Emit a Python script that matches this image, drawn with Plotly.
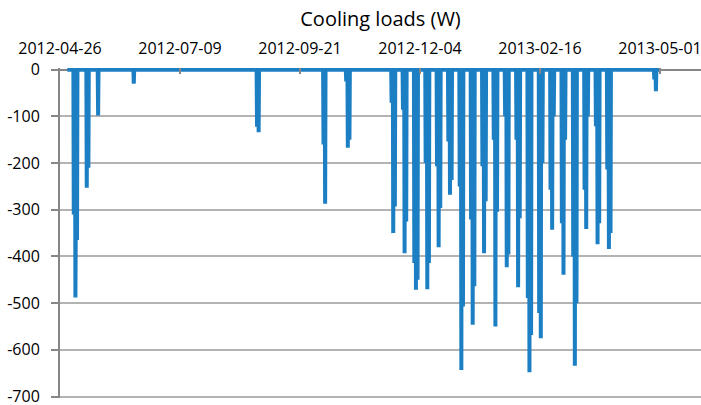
import datetime as dt
import plotly.graph_objects as go

# Daily peak cooling loads (W) for each load event; one value per consecutive day
event_start = [
    "2012-05-04", "2012-05-12", "2012-05-19", "2012-06-10",
    "2012-08-25", "2012-10-05", "2012-10-19",
    "2012-11-16", "2012-11-23", "2012-11-30", "2012-12-07", "2012-12-14",
    "2012-12-21", "2012-12-28", "2013-01-04", "2013-01-11", "2013-01-18",
    "2013-01-25", "2013-02-01", "2013-02-08", "2013-02-15", "2013-02-22",
    "2013-03-01", "2013-03-08", "2013-03-15", "2013-03-22", "2013-03-29",
    "2013-04-27",
]
event_peaks = [
    [-310, -488, -365], [-253, -210], [-98], [-30],
    [-122, -134], [-160, -287], [-25, -167, -150],
    [-71, -350, -293], [-86, -393, -325], [-414, -471, -450], [-200, -470, -414], [-207, -380, -296],
    [-154, -268, -236], [-250, -643, -507], [-321, -546, -464], [-207, -393, -282], [-150, -550, -304],
    [-100, -423, -396], [-150, -466, -318], [-489, -648, -568], [-521, -575, -200], [-257, -343, -100],
    [-329, -439, -150], [-400, -634, -500], [-257, -341, -100], [-121, -374, -329], [-214, -384, -350],
    [-21, -46],
]
series_start = "2012-04-30 12:00"
series_end = "2013-05-01 00:00"

x_ticks = ["2012-04-26", "2012-07-09", "2012-09-21", "2012-12-04", "2013-02-16", "2013-05-01"]
y_ticks = [0, -100, -200, -300, -400, -500, -600, -700]

# Build the load series: zero baseline with a daytime peak on each event day
pts = [(dt.datetime.fromisoformat(series_start), 0.0)]
for start, peaks in zip(event_start, event_peaks):
    d0 = dt.datetime.fromisoformat(start)
    for i, p in enumerate(peaks):
        day = d0 + dt.timedelta(days=i)
        pts.append((day + dt.timedelta(hours=6), 0.0))
        pts.append((day + dt.timedelta(hours=12), p))
        pts.append((day + dt.timedelta(hours=18), 0.0))
pts.append((dt.datetime.fromisoformat(series_end), 0.0))
pts.sort(key=lambda t: t[0])
xs = [t[0] for t in pts]
ys = [t[1] for t in pts]

FONT = "Open Sans"
AXIS_GREY = "#868686"
GRID_GREY = "#b3b3b3"

fig = go.Figure(
    go.Scatter(
        x=xs, y=ys, mode="lines",
        line=dict(color="#1c7fc3", width=4),
        hoverinfo="skip",
    )
)

fig.update_layout(
    width=701, height=405,
    margin=dict(l=60, r=0, t=68, b=7, autoexpand=False),
    paper_bgcolor="white", plot_bgcolor="white",
    showlegend=False,
    font=dict(family=FONT, color="#000000", size=16),
    title=dict(
        text="Cooling loads (W)",
        font=dict(family=FONT, size=20, color="#000000"),
        x=0.5, xref="paper", xanchor="center",
        y=1 - 19 / 405, yref="container", yanchor="middle",
    ),
)

fig.update_xaxes(
    type="date",
    side="top",
    range=["2012-04-26", "2013-05-26 07:00"],
    tickvals=x_ticks, ticktext=x_ticks,
    ticks="inside", ticklen=6, tickwidth=1.5, tickcolor=AXIS_GREY,
    showgrid=False, showline=False, zeroline=False,
    tickfont=dict(family=FONT, size=16, color="#000000"),
    ticklabelstandoff=10,
    ticklabeloverflow="allow",
    automargin=False,
)

fig.update_yaxes(
    range=[-703, 3.5],
    tickvals=y_ticks, ticktext=[str(v) for v in y_ticks],
    ticks="outside", ticklen=7, tickwidth=1.5, tickcolor=AXIS_GREY,
    showgrid=True, gridcolor=GRID_GREY, gridwidth=1.5,
    zeroline=True, zerolinecolor=AXIS_GREY, zerolinewidth=2,
    showline=True, linecolor=AXIS_GREY, linewidth=2,
    tickfont=dict(family=FONT, size=16, color="#000000"),
    ticklabelstandoff=8,
    ticklabeloverflow="allow",
    automargin=False,
)

fig.write_html("out.html")
